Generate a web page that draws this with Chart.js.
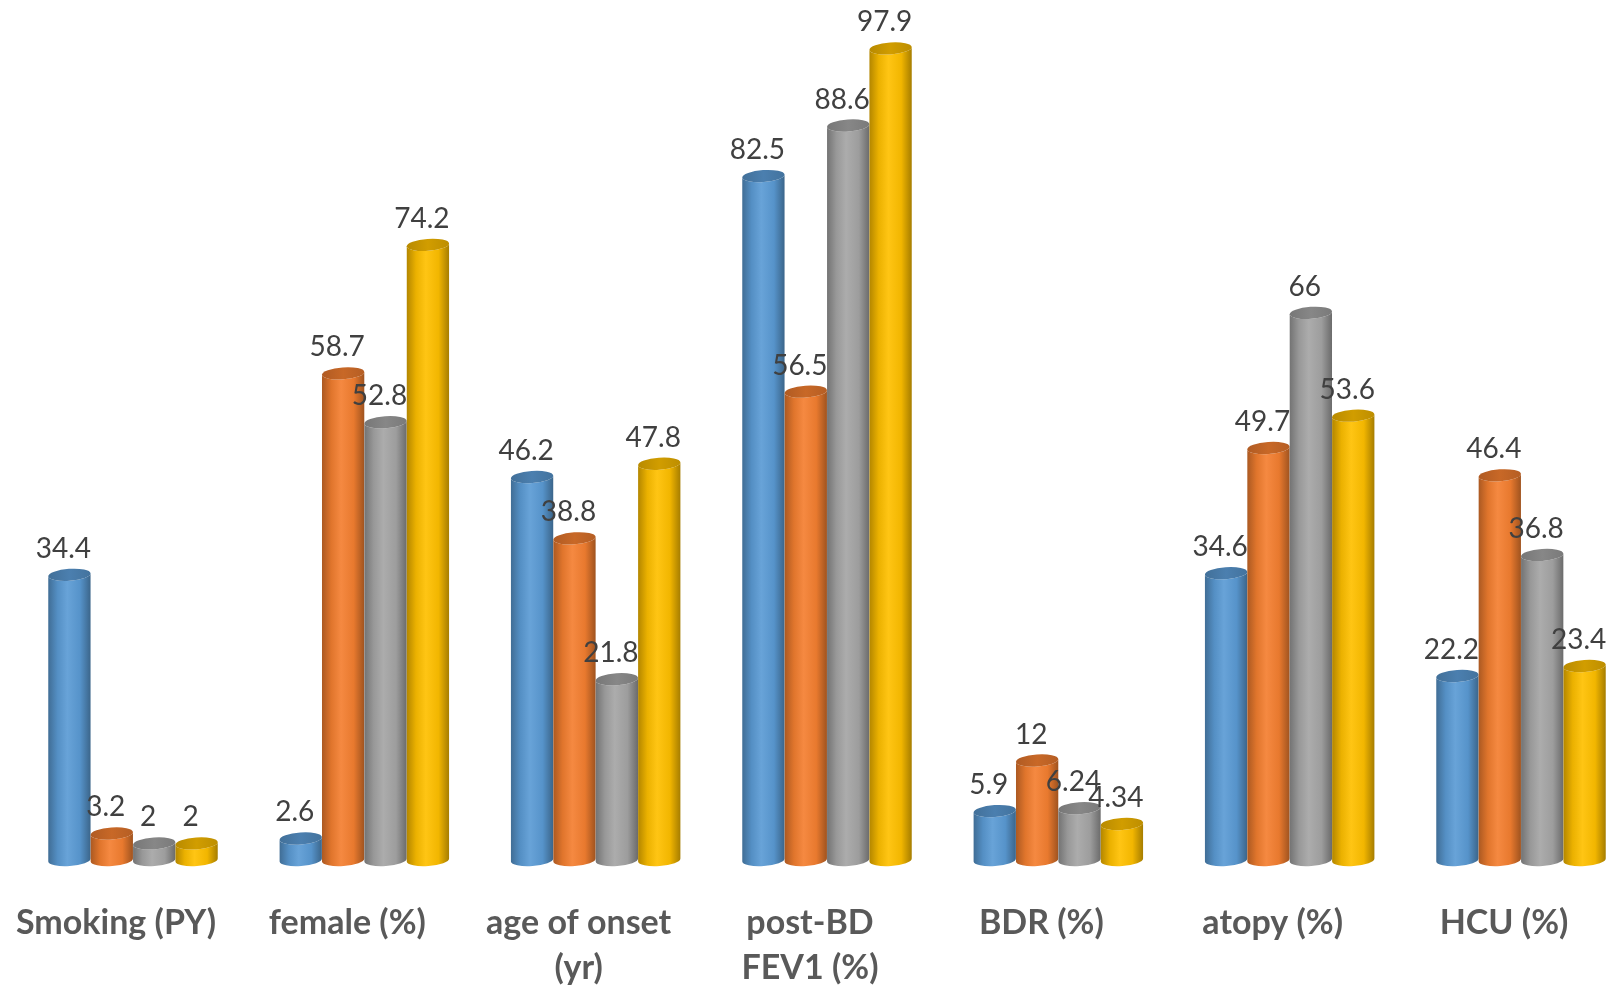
<!DOCTYPE html>
<html>
<head>
<meta charset="utf-8">
<script src="https://cdn.jsdelivr.net/npm/chart.js@4.4.1/dist/chart.umd.min.js"></script>
<style>
  html, body { margin: 0; padding: 0; background: #fff; }
  #wrap { width: 1610px; height: 987px; }
</style>
</head>
<body>
<div id="wrap"><canvas id="cluster-chart"></canvas></div>
<script>
const categories = ['Smoking (PY)', 'female (%)', ['age of onset', '(yr)'], ['post-BD', 'FEV1 (%)'], 'BDR (%)', 'atopy (%)', 'HCU (%)'];
const cluster1 = [34.4, 2.6, 46.2, 82.5, 5.9, 34.6, 22.2];
const cluster2 = [3.2, 58.7, 38.8, 56.5, 12, 49.7, 46.4];
const cluster3 = [2, 52.8, 21.8, 88.6, 6.24, 66, 36.8];
const cluster4 = [2, 74.2, 47.8, 97.9, 4.34, 53.6, 23.4];
const seriesNames = ['Cluster 1', 'Cluster 2', 'Cluster 3', 'Cluster 4'];
const seriesColors = ['#5b9bd5', '#f47f30', '#a5a5a5', '#ffc000'];

// mix a hex colour toward black (f < 0) or white (f > 0)
const shade = (hex, f) => {
    const n = parseInt(hex.slice(1), 16);
    let rgb = [(n >> 16) & 255, (n >> 8) & 255, n & 255];
    rgb = rgb.map(c => Math.round(f < 0 ? c * (1 + f) : c + (255 - c) * f));
    return `rgb(${rgb[0]}, ${rgb[1]}, ${rgb[2]})`;
};

const drawCylinder = (ctx, x, top, bottom, width, color) => {
    const rx = width / 2;
    const ry = 6;
    const tilt = -0.07;

    const side = ctx.createLinearGradient(x - rx, 0, x + rx, 0);
    side.addColorStop(0, shade(color, -0.3));
    side.addColorStop(0.22, shade(color, -0.08));
    side.addColorStop(0.45, shade(color, 0.08));
    side.addColorStop(0.75, shade(color, -0.05));
    side.addColorStop(1, shade(color, -0.35));

    ctx.beginPath();
    ctx.ellipse(x, top, rx, ry, tilt, 0, Math.PI, false);
    ctx.ellipse(x, bottom, rx, ry, tilt, Math.PI, 0, true);
    ctx.closePath();
    ctx.fillStyle = side;
    ctx.fill();

    const cap = ctx.createLinearGradient(x - rx, 0, x + rx, 0);
    cap.addColorStop(0, shade(color, -0.28));
    cap.addColorStop(0.5, shade(color, -0.18));
    cap.addColorStop(1, shade(color, -0.26));
    ctx.beginPath();
    ctx.ellipse(x, top, rx, ry, tilt, 0, Math.PI * 2);
    ctx.fillStyle = cap;
    ctx.fill();
};

// draws each series as shaded cylinders followed by its value labels
const cylinderPlugin = {
    id: 'cylinders',
    afterDatasetsDraw(chart) {
        const ctx = chart.ctx;
        ctx.save();
        chart.data.datasets.forEach((ds, i) => {
            const meta = chart.getDatasetMeta(i);
            meta.data.forEach(bar => {
                drawCylinder(ctx, bar.x, bar.y, bar.base, bar.width, seriesColors[i]);
            });
            ctx.font = '28px Lato';
            ctx.fillStyle = '#404040';
            ctx.textAlign = 'center';
            ctx.textBaseline = 'alphabetic';
            meta.data.forEach((bar, j) => {
                ctx.fillText(String(ds.data[j]), bar.x - 6, bar.y - 17);
            });
        });
        ctx.restore();
    }
};

const series = [cluster1, cluster2, cluster3, cluster4];

new Chart(document.getElementById('cluster-chart').getContext('2d'), {
    type: 'bar',
    data: {
        labels: categories,
        datasets: series.map((values, i) => ({
            label: seriesNames[i],
            data: values,
            backgroundColor: 'rgba(0, 0, 0, 0)',
            borderWidth: 0,
            categoryPercentage: 0.733,
            barPercentage: 1.0
        }))
    },
    options: {
        responsive: true,
        maintainAspectRatio: false,
        animation: false,
        layout: {
            padding: { left: 133, right: 89, top: 31, bottom: 0 }
        },
        scales: {
            x: {
                offset: false,
                grid: { display: false, drawTicks: false },
                border: { display: false },
                ticks: {
                    autoSkip: false,
                    maxRotation: 0,
                    labelOffset: -17,
                    padding: 40,
                    color: '#595959',
                    font: { family: 'Lato', size: 34, weight: 'bold', lineHeight: 1.33 }
                },
                afterFit(axis) {
                    axis.height = 127;
                    axis.paddingLeft = 0;
                    axis.paddingRight = 0;
                }
            },
            y: {
                display: false,
                min: 0,
                max: 100
            }
        },
        plugins: {
            legend: { display: false },
            tooltip: { enabled: false }
        }
    },
    plugins: [cylinderPlugin]
});
</script>
</body>
</html>
